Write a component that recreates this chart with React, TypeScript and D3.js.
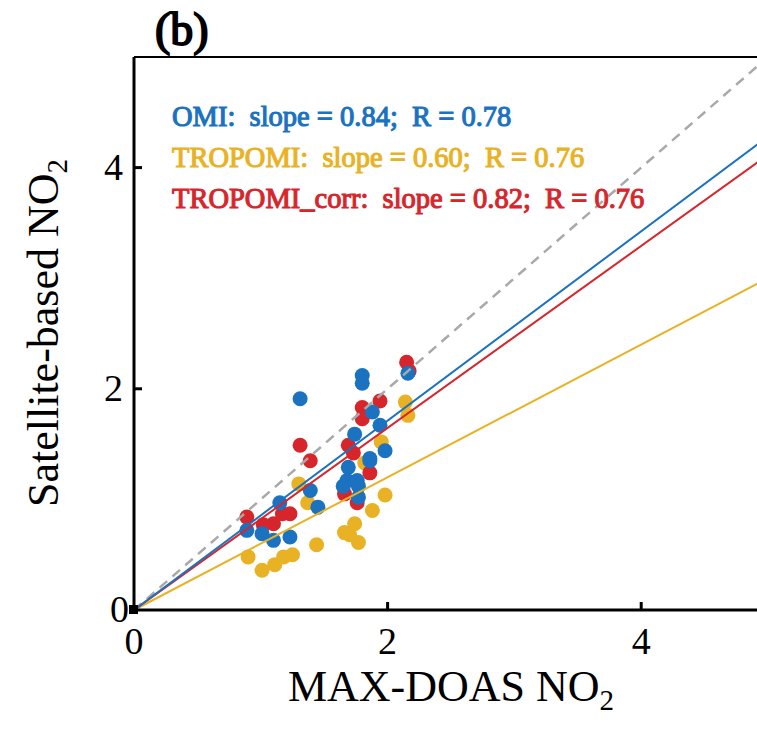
import React from "react";
import * as d3 from "d3";

// MAX-DOAS vs satellite NO2 (panel b)
const omiX = [1.31, 1.8, 1.8, 2.16, 1.88, 1.94, 1.74, 1.98, 1.86, 1.69, 1.68, 1.76, 1.65, 1.77, 1.77, 1.39, 1.45, 1.15, 0.89, 1.01, 1.1, 1.23, 1.86];
const omiY = [1.91, 2.12, 2.05, 2.14, 1.79, 1.67, 1.59, 1.44, 1.37, 1.29, 1.17, 1.17, 1.12, 1.12, 1.02, 1.08, 0.93, 0.97, 0.72, 0.69, 0.63, 0.66, 1.35];

const tropX = [2.14, 2.16, 1.95, 1.3, 1.37, 1.98, 1.88, 1.74, 1.66, 1.7, 1.77, 1.44, 0.9, 1.01, 1.11, 1.18, 1.25, 1.82];
const tropY = [1.88, 1.76, 1.52, 1.14, 0.97, 1.04, 0.9, 0.78, 0.7, 0.68, 0.61, 0.59, 0.48, 0.36, 0.41, 0.48, 0.5, 1.33];

const corrX = [2.15, 1.94, 1.8, 1.8, 1.69, 1.73, 1.86, 1.66, 1.76, 1.31, 1.39, 0.89, 1.17, 1.23, 1.1, 1.02, 2.17];
const corrY = [2.24, 1.89, 1.83, 1.73, 1.49, 1.42, 1.24, 1.05, 0.97, 1.49, 1.35, 0.84, 0.87, 0.87, 0.78, 0.77, 2.16];

const seriesNames = ["OMI", "TROPOMI", "TROPOMI_corr"];
const slopes = [0.84, 0.6, 0.82];
const rValues = [0.78, 0.76, 0.76];
// slopes of the drawn fit lines as they appear in the figure
const lineSlopes = [0.856, 0.6, 0.823];
const colors = ["#1a72c0", "#e9b224", "#d7262b"];

const xTicks = [0, 2, 4];
const yTicks = [0, 2, 4];

const W = 757;
const H = 735;
const left = 134;
const top = 57;
const bottom = 610;
const serif = "'Liberation Serif', 'Times New Roman', serif";

export default function App() {
  const x = d3.scaleLinear().domain([0, 5]).range([left, left + 634]);
  const y = d3.scaleLinear().domain([0, 5]).range([bottom, top]);
  const line = d3
    .line<[number, number]>()
    .x((d) => x(d[0]))
    .y((d) => y(d[1]));

  const pts = (xs: number[], ys: number[]) => xs.map((v, i) => [v, ys[i]] as [number, number]);
  const series = [pts(omiX, omiY), pts(tropX, tropY), pts(corrX, corrY)];
  const drawOrder = [1, 2, 0];
  const xEnd = 5;

  return (
    <svg width={W} height={H} style={{ position: "absolute", left: 0, top: 0, background: "#fff" }}>
      {/* points */}
      {drawOrder.map((s) =>
        series[s].map((d, i) => (
          <circle key={`${s}-${i}`} cx={x(d[0])} cy={y(d[1])} r={7.5} fill={colors[s]} />
        ))
      )}

      {/* 1:1 line */}
      <path
        d={line([[0, 0], [xEnd, xEnd]]) || ""}
        stroke="#a9a9a9"
        strokeWidth={2.5}
        strokeDasharray="10,7"
        fill="none"
      />
      {/* fit lines */}
      {[1, 2, 0].map((s) => (
        <path
          key={`fit-${s}`}
          d={line([[0, 0], [xEnd, lineSlopes[s] * xEnd]]) || ""}
          stroke={colors[s]}
          strokeWidth={2}
          fill="none"
        />
      ))}

      {/* frame */}
      <line x1={left} x2={W + 10} y1={bottom} y2={bottom} stroke="#000" strokeWidth={3} />
      <line x1={left} x2={left} y1={top} y2={bottom} stroke="#000" strokeWidth={3} />
      <line x1={left} x2={W + 10} y1={top} y2={top} stroke="#000" strokeWidth={2} />
      <rect x={left - 5} y={bottom - 5} width={9} height={9} fill="#000" />

      {/* ticks */}
      {xTicks.map((t) => (
        <g key={`xt-${t}`}>
          {t > 0 && <line x1={x(t)} x2={x(t)} y1={bottom} y2={bottom - 8} stroke="#000" strokeWidth={3} />}
          <text x={x(t)} y={654} textAnchor="middle" fontFamily={serif} fontSize={38}>
            {t}
          </text>
        </g>
      ))}
      {yTicks.map((t) => (
        <g key={`yt-${t}`}>
          {t > 0 && <line x1={left} x2={left + 8} y1={y(t)} y2={y(t)} stroke="#000" strokeWidth={3} />}
          <text x={t === 0 ? 129 : 123} y={y(t) + 12} textAnchor="end" fontFamily={serif} fontSize={38}>
            {t}
          </text>
        </g>
      ))}

      {/* axis titles */}
      <text x={451} y={701} textAnchor="middle" fontFamily={serif} fontSize={44}>
        MAX-DOAS NO
        <tspan fontSize={29} dy={9}>2</tspan>
      </text>
      <text
        transform={`translate(58, 333) rotate(-90)`}
        textAnchor="middle"
        fontFamily={serif}
        fontSize={44}
      >
        Satellite-based NO
        <tspan fontSize={29} dy={9}>2</tspan>
      </text>

      {/* panel label */}
      <text x={155} y={45} fontFamily={serif} fontSize={46} fill="#000" stroke="#000" strokeWidth={1.8}>
        (b)
      </text>

      {/* statistics */}
      {seriesNames.map((n, i) => (
        <text
          key={`lab-${n}`}
          x={172}
          y={126 + i * 41}
          fontFamily={serif}
          fontSize={28.5}
          fill={colors[i]}
          stroke={colors[i]}
          strokeWidth={1.1}
          style={{ whiteSpace: "pre" }}
        >
          {`${n}:  slope = ${slopes[i].toFixed(2)};  R = ${rValues[i].toFixed(2)}`}
        </text>
      ))}
    </svg>
  );
}
